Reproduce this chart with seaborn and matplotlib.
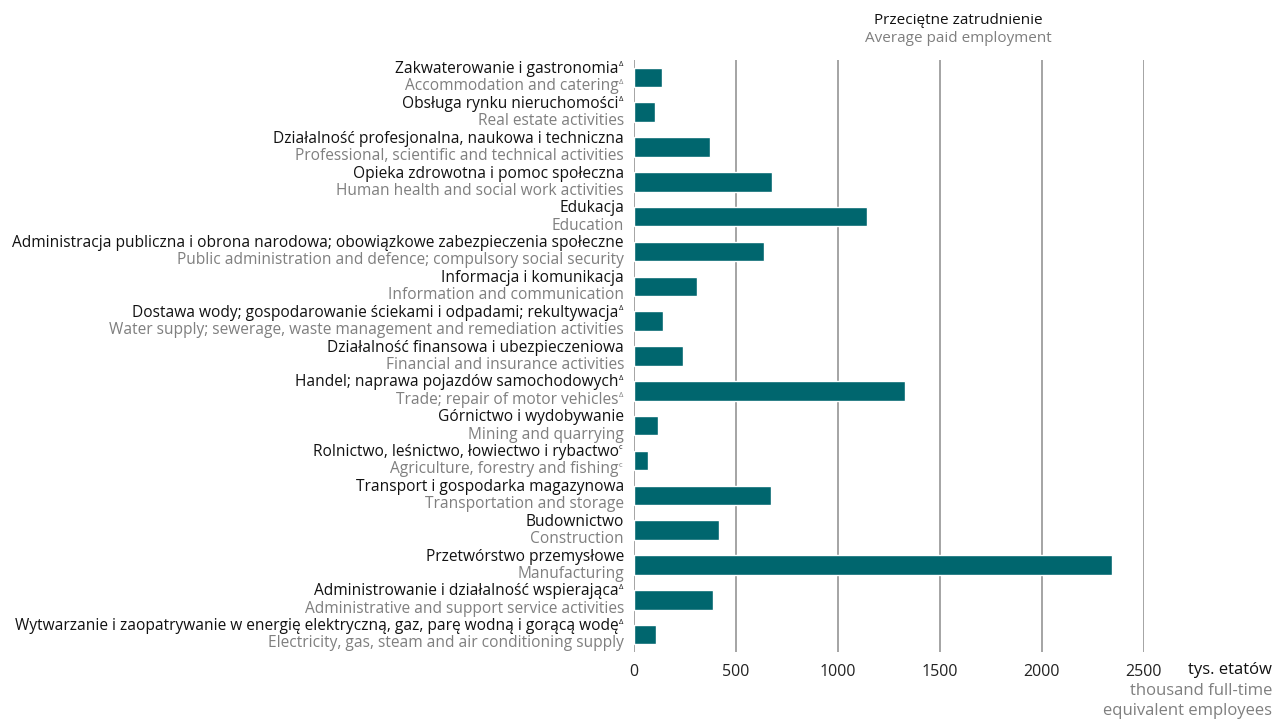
import pandas as pd
import matplotlib.pyplot as plt
import seaborn as sns

# categories (top to bottom), Polish / English labels, superscripts
labels_pl = [
    "Zakwaterowanie i gastronomia",
    "Obsługa rynku nieruchomości",
    "Działalność profesjonalna, naukowa i techniczna",
    "Opieka zdrowotna i pomoc społeczna",
    "Edukacja",
    "Administracja publiczna i obrona narodowa; obowiązkowe zabezpieczenia społeczne",
    "Informacja i komunikacja",
    "Dostawa wody; gospodarowanie ściekami i odpadami; rekultywacja",
    "Działalność finansowa i ubezpieczeniowa",
    "Handel; naprawa pojazdów samochodowych",
    "Górnictwo i wydobywanie",
    "Rolnictwo, leśnictwo, łowiectwo i rybactwo",
    "Transport i gospodarka magazynowa",
    "Budownictwo",
    "Przetwórstwo przemysłowe",
    "Administrowanie i działalność wspierająca",
    "Wytwarzanie i zaopatrywanie w energię elektryczną, gaz, parę wodną i gorącą wodę",
]
labels_en = [
    "Accommodation and catering",
    "Real estate activities",
    "Professional, scientific and technical activities",
    "Human health and social work activities",
    "Education",
    "Public administration and defence; compulsory social security",
    "Information and communication",
    "Water supply; sewerage, waste management and remediation activities",
    "Financial and insurance activities",
    "Trade; repair of motor vehicles",
    "Mining and quarrying",
    "Agriculture, forestry and fishing",
    "Transportation and storage",
    "Construction",
    "Manufacturing",
    "Administrative and support service activities",
    "Electricity, gas, steam and air conditioning supply",
]
sup_pl = ["Δ", "Δ", "", "", "", "", "", "Δ", "", "Δ", "", "c", "", "", "", "Δ", "Δ"]
sup_en = ["Δ", "", "", "", "", "", "", "", "", "Δ", "", "c", "", "", "", "", ""]
employment = [137, 103, 373, 676, 1142, 637, 309, 142, 240, 1328, 118, 69, 672, 417, 2343, 387, 108]
ticks = [0, 500, 1000, 1500, 2000, 2500]

sns.set_style("white")
plt.rcParams['font.family'] = ['Open Sans', 'DejaVu Sans']

BAR = "#00666e"
GREY = "#7f7f7f"

df = pd.DataFrame({"cat": labels_pl, "val": employment})

fig = plt.figure(figsize=(12.74, 7.22), dpi=100)
ax = fig.add_axes([634 / 1274, 1 - 652 / 722, (1144 - 634) / 1274, (652 - 60) / 722])

sns.barplot(data=df, x="val", y="cat", color=BAR, saturation=1, width=0.56, ax=ax, zorder=3)

ax.set_xlim(0, 2500)
ax.set_ylim(len(labels_pl) - 0.5, -0.5)
ax.set_xticks(ticks)
ax.set_xticklabels([str(t) for t in ticks], fontsize=11.5, color="#222222")
ax.tick_params(axis="x", length=0, pad=9)
ax.set_yticks([])
ax.set_xlabel("")
ax.set_ylabel("")
for s in ax.spines.values():
    s.set_visible(False)
for t in ticks:
    ax.axvline(t, color="#8c8c8c", lw=1.1, zorder=1)

tr = ax.get_yaxis_transform()
for i in range(len(labels_pl)):
    for txt, sup, col, dy in ((labels_pl[i], sup_pl[i], "#111111", 6.0),
                              (labels_en[i], sup_en[i], GREY, -6.4)):
        off = -11 if sup else -7.2
        ax.annotate(txt, xy=(0, i), xycoords=tr, xytext=(off, dy), textcoords="offset points",
                    ha="right", va="center", fontsize=11.2, color=col, annotation_clip=False)
        if sup:
            ax.annotate(sup, xy=(0, i), xycoords=tr, xytext=(-11, dy + 3), textcoords="offset points",
                        ha="left", va="center", fontsize=5.5, color=col, annotation_clip=False)

fig.text(958 / 1274, 1 - 20 / 722, "Przeciętne zatrudnienie", ha="center", va="center",
         fontsize=11, color="#111111")
fig.text(958 / 1274, 1 - 38 / 722, "Average paid employment", ha="center", va="center",
         fontsize=11, color=GREY)

fig.text(1272 / 1274, 1 - 670 / 722, "tys. etatów", ha="right", va="center", fontsize=12, color="#111111")
fig.text(1272 / 1274, 1 - 691 / 722, "thousand full-time", ha="right", va="center", fontsize=12, color=GREY)
fig.text(1272 / 1274, 1 - 711 / 722, "equivalent employees", ha="right", va="center", fontsize=12, color=GREY)

fig.savefig("out.png", dpi=100)
